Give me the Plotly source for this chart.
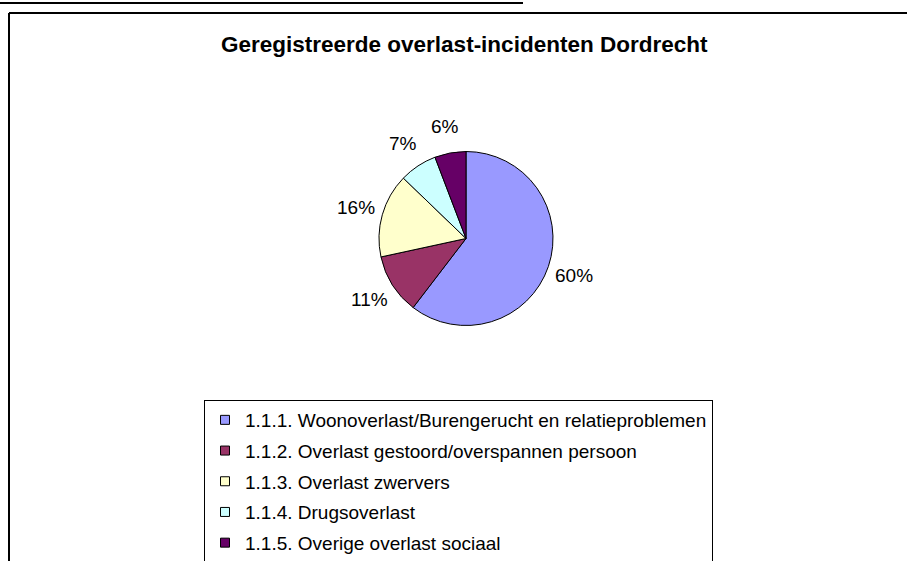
import math
import plotly.graph_objects as go

W, H = 907, 561

title_text = "Geregistreerde overlast-incidenten Dordrecht"
categories = [
    "1.1.1. Woonoverlast/Burengerucht en relatieproblemen",
    "1.1.2. Overlast gestoord/overspannen persoon",
    "1.1.3. Overlast zwervers",
    "1.1.4. Drugsoverlast",
    "1.1.5. Overige overlast sociaal",
]
shares = [60.4, 11.2, 15.6, 7.0, 5.8]
colors = ["#9999FF", "#993366", "#FFFFCC", "#CCFFFF", "#660066"]

FONT = "Arial, 'Liberation Sans', sans-serif"

def px(x):
    return x / W

def py(y):
    return 1 - y / H

cx, cy, r = 466, 238.5, 87
label_dist = 114

fig = go.Figure()
fig.add_trace(go.Pie(
    values=shares,
    labels=categories,
    sort=False,
    direction="clockwise",
    rotation=0,
    marker=dict(colors=colors, line=dict(color="black", width=1)),
    textinfo="none",
    showlegend=False,
    hoverinfo="label+percent",
    domain=dict(x=[px(cx - r), px(cx + r)], y=[py(cy + r), py(cy - r)]),
))

# percentage labels placed at each slice's mid-angle (derived from the data)
total = sum(shares)
annotations = []
cum = 0.0
for v in shares:
    mid = (cum + v / 2) / total * 2 * math.pi
    cum += v
    lx = cx + label_dist * math.sin(mid)
    ly = cy - label_dist * math.cos(mid)
    annotations.append(dict(
        text=f"{round(v / total * 100)}%", x=px(lx), y=py(ly), xref="paper", yref="paper",
        xanchor="center", yanchor="middle", showarrow=False,
        font=dict(family=FONT, size=19, color="black"),
    ))

annotations.append(dict(
    text=f"<b>{title_text}</b>", x=px(464), y=py(45), xref="paper", yref="paper",
    xanchor="center", yanchor="middle", showarrow=False,
    font=dict(family=FONT, size=22.5, color="black"),
))

# legend entries (one per category, separate groups to control spacing)
for i, (name, col) in enumerate(zip(categories, colors)):
    fig.add_trace(go.Scatter(
        x=[None], y=[None], mode="markers", name=name,
        legendgroup=f"g{i}",
        marker=dict(symbol="square", size=9, color=col, line=dict(color="black", width=1)),
        showlegend=True,
    ))

shapes = [
    dict(type="line", xref="paper", yref="paper", x0=0, x1=px(523), y0=py(3), y1=py(3),
         line=dict(color="black", width=2)),
    dict(type="line", xref="paper", yref="paper", x0=px(9), x1=1.01, y0=py(13), y1=py(13),
         line=dict(color="black", width=2)),
    dict(type="line", xref="paper", yref="paper", x0=px(9), x1=px(9), y0=py(13), y1=-0.01,
         line=dict(color="black", width=2)),
]

fig.update_layout(
    width=W, height=H,
    margin=dict(l=0, r=0, t=0, b=0, autoexpand=False),
    paper_bgcolor="white",
    plot_bgcolor="white",
    xaxis=dict(visible=False),
    yaxis=dict(visible=False),
    shapes=shapes,
    annotations=annotations,
    legend=dict(
        x=px(204), y=py(400), xanchor="left", yanchor="top",
        bordercolor="black", borderwidth=1, bgcolor="white",
        font=dict(family=FONT, size=19, color="black"),
        tracegroupgap=3,
        itemclick=False, itemdoubleclick=False,
    ),
    showlegend=True,
)

fig.write_html(
    "out.html",
    config={"displayModeBar": False},
    post_script="document.body.style.margin='0px';",
)
